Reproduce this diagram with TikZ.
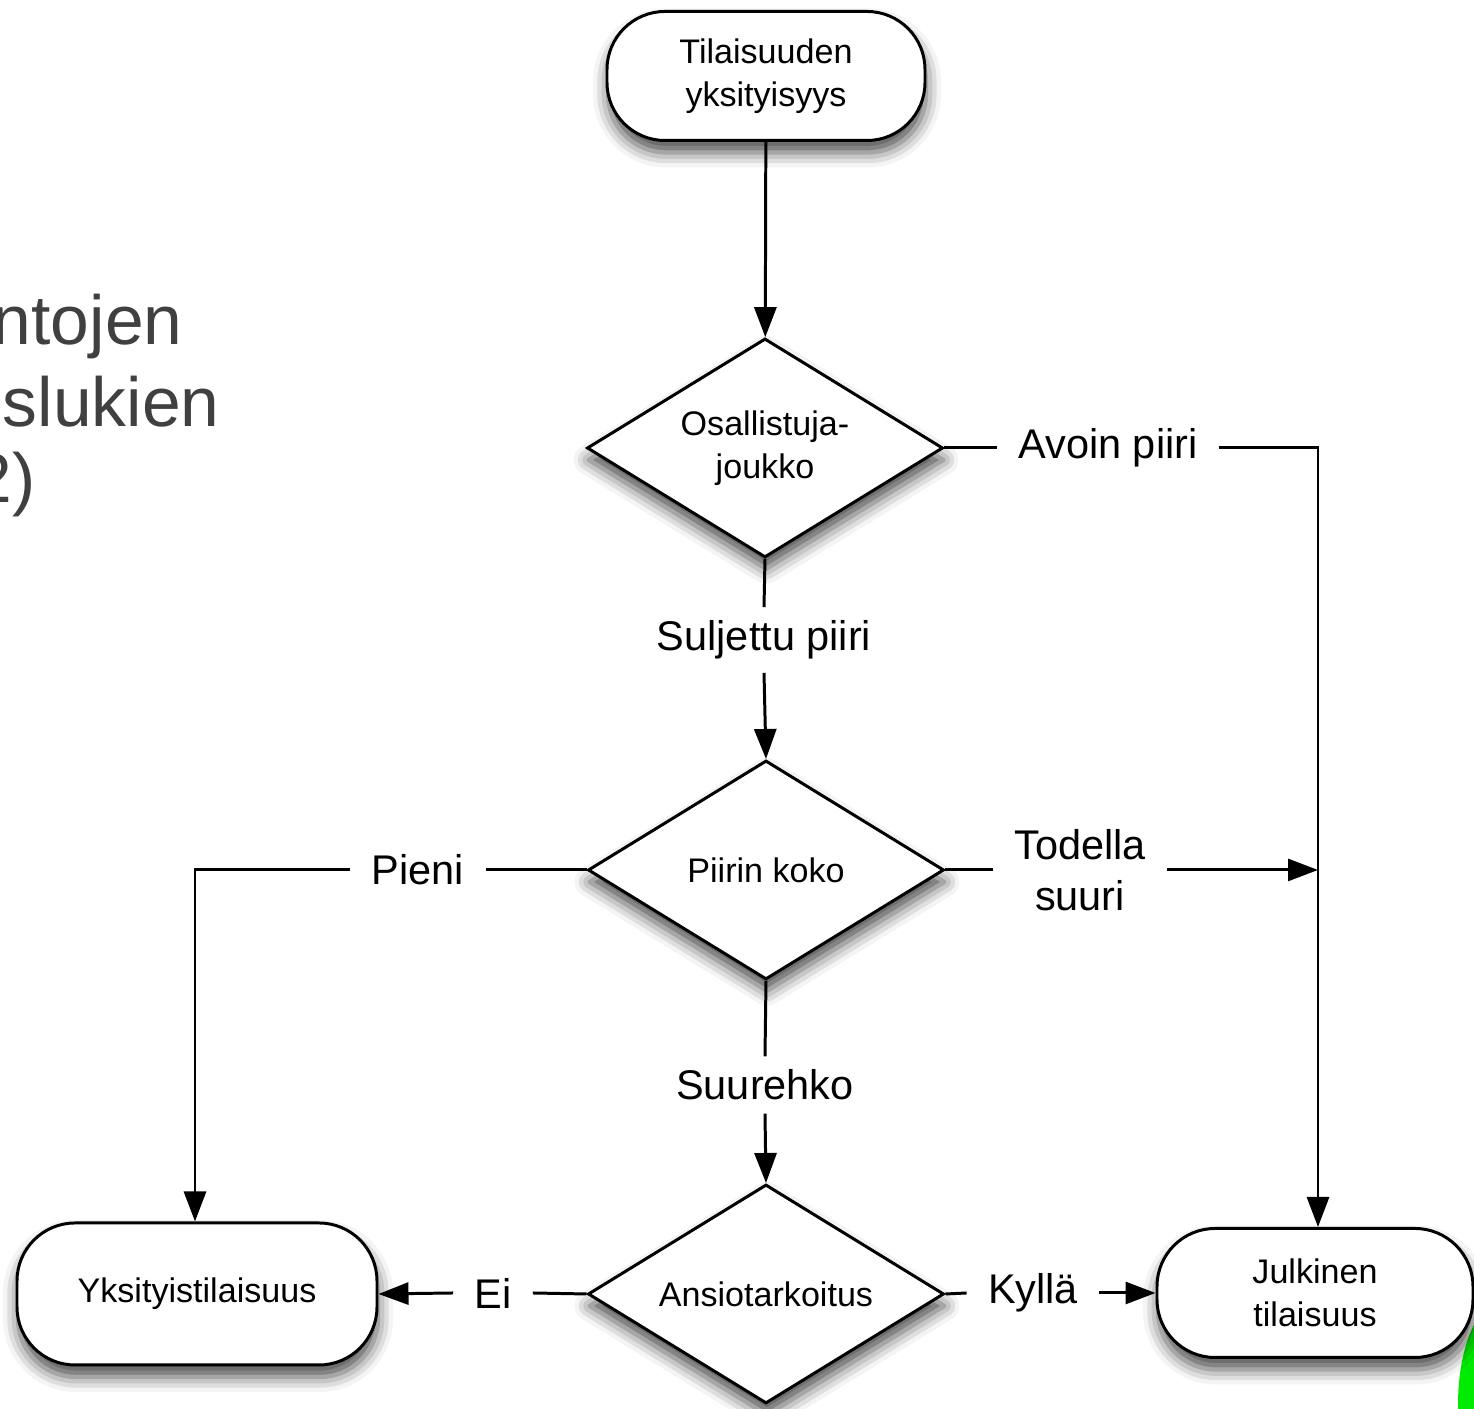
\documentclass[tikz,border=0pt]{standalone}
\usepackage{fontspec}
\setmainfont{Liberation Sans}
\usetikzlibrary{shapes.geometric,arrows.meta,shadows.blur}
\definecolor{slidegrey}{HTML}{404040}
\definecolor{markgreen}{RGB}{0,235,0}

\begin{document}
\begin{tikzpicture}[
        >={Triangle[length=0.3cm,width=0.22cm]},
        line width=0.85pt,
        softshadow/.style={blur shadow={shadow xshift=0.01cm,shadow yshift=-0.12cm,
                shadow blur radius=0.15cm,shadow opacity=70}},
        terminal/.style={draw,fill=white,rounded corners=0.58cm,align=center,
                font=\fontsize{9.7}{12.2}\selectfont,softshadow},
        decision/.style={draw,fill=white,diamond,aspect=1.63,inner sep=0pt,
                minimum width=3.56cm,minimum height=2.19cm,align=center,
                font=\fontsize{9.7}{12.2}\selectfont,softshadow},
        choice/.style={font=\fontsize{11.8}{14.5}\selectfont,inner xsep=0.2cm,
                inner ysep=0.12cm,align=center}
    ]
    \clip (0,0) rectangle (14.74,14.09);
    % slide text cut off at the left, and the green mark at the corner
    \node[anchor=base east,text=slidegrey,font=\fontsize{19.8}{23}\selectfont,inner sep=0pt] (frag1) at (1.84,10.64) {ntojen};
    \node[anchor=base east,text=slidegrey,font=\fontsize{19.8}{23}\selectfont,inner sep=0pt] (frag2) at (2.21,9.82) {slukien};
    \node[anchor=base east,text=slidegrey,font=\fontsize{19.8}{23}\selectfont,inner sep=0pt] (frag3) at (0.37,9.06) {2)};
    \fill[markgreen] (14.98,0.04) ellipse [x radius=0.4,y radius=1.0];

    % boxes
    \node[terminal,minimum width=3.18cm,minimum height=1.29cm] (start) at (7.66,13.33) {Tilaisuuden\\yksityisyys};
    \node[decision] (group) at (7.65,9.61) {Osallistuja-\\joukko};
    \node[decision] (size) at (7.66,5.39) {Piirin koko};
    \node[decision] (profit) at (7.66,1.15) {Ansiotarkoitus};
    \node[terminal,minimum width=3.60cm,minimum height=1.42cm] (private) at (1.97,1.15) {Yksityistilaisuus};
    \node[terminal,minimum width=3.16cm,minimum height=1.29cm] (public) at (13.15,1.16) {Julkinen\\tilaisuus};

    % answers
    \node[choice] (open) at (11.08,9.61) {Avoin piiri};
    \node[choice] (closed) at (7.64,7.69) {Suljettu piiri};
    \node[choice] (small) at (4.18,5.39) {Pieni};
    \node[choice] (huge) at (10.80,5.39) {Todella\\suuri};
    \node[choice] (biggish) at (7.65,3.24) {Suurehko};
    \node[choice] (no) at (4.93,1.16) {Ei};
    \node[choice] (yes) at (10.33,1.16) {Kyllä};

    \coordinate (openturn) at (13.18,9.61);
    \coordinate (smallturn) at (1.95,5.39);
    \coordinate (hugejoin) at (13.18,5.39);

    \draw[->] (start) -- (group);
    \draw (group.east) -- (open.west);
    \draw[->] (open.east) -- (openturn) -- (public.north -| openturn);
    \draw (group.south) -- (closed.north);
    \draw[->] (closed.south) -- (size.north);
    \draw (size.west) -- (small.east);
    \draw[->] (small.west) -- (smallturn) -- (private.north -| smallturn);
    \draw (size.east) -- (huge.west);
    \draw[->] (huge.east) -- (hugejoin);
    \draw (size.south) -- (biggish.north);
    \draw[->] (biggish.south) -- (profit.north);
    \draw (profit.west) -- (no.east);
    \draw[->] (no.west) -- (private.east);
    \draw (profit.east) -- (yes.west);
    \draw[->] (yes.east) -- (public.west);
\end{tikzpicture}
\end{document}
